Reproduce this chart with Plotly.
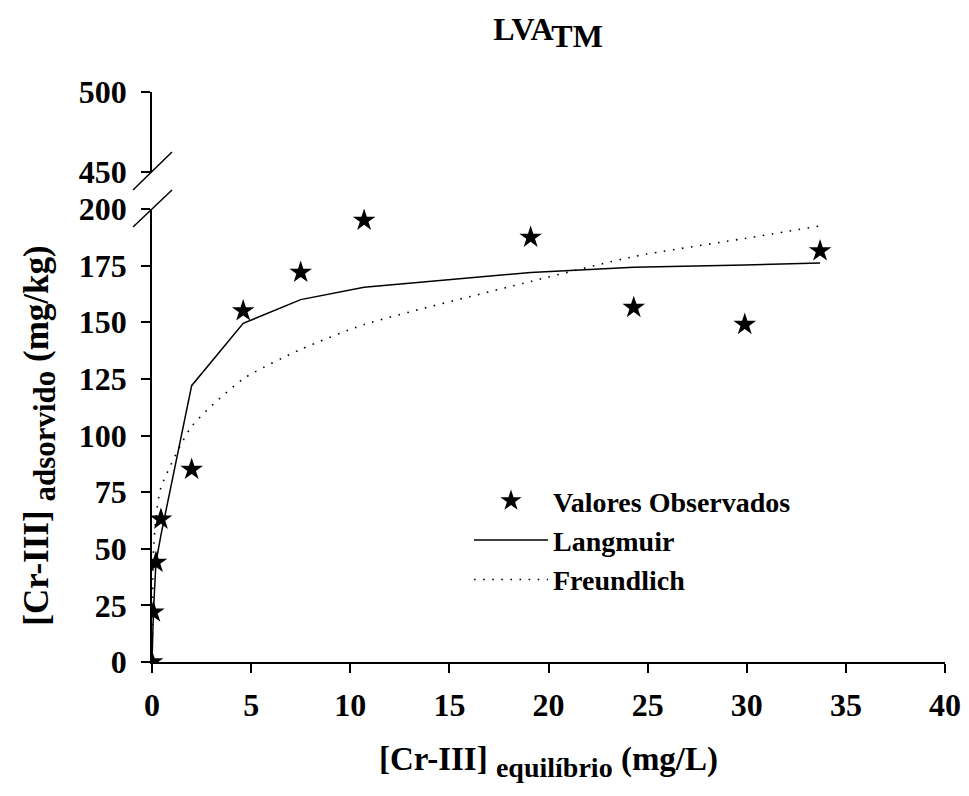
import plotly.graph_objects as go

# Equilibrium concentration of Cr(III) (mg/L)
conc = [0, 0.07, 0.2, 0.45, 2.0, 4.6, 7.5, 10.7, 19.1, 24.3, 29.9, 33.7]
# Observed adsorbed amount (mg/kg)
observed = [0, 22, 44, 63, 85, 155, 172, 195, 187.5, 156.5, 149, 181.5]
# Fitted isotherms (mg/kg)
langmuir = [0, 22, 44, 56, 122, 149.5, 160, 165.5, 172, 174.3, 175.3, 176.2]
freundlich = [0, 48, 64, 77, 104, 125, 138, 149, 168, 179, 187, 192.5]

lower_ticks = [0, 25, 50, 75, 100, 125, 150, 175, 200]
upper_ticks = [450, 500]
x_ticks = [0, 5, 10, 15, 20, 25, 30, 35, 40]

FONT = "Liberation Serif"

fig = go.Figure()
fig.add_trace(go.Scatter(
    x=conc, y=observed, mode="markers", name="Valores Observados",
    marker=dict(symbol="star", size=17, color="black"),
))
fig.add_trace(go.Scatter(
    x=conc, y=langmuir, mode="lines", name="Langmuir",
    line=dict(color="black", width=1.5),
))
fig.add_trace(go.Scatter(
    x=conc, y=freundlich, mode="lines", name="Freundlich",
    line=dict(color="black", width=1.6, dash="1.6px,7.5px", shape="spline", smoothing=0.6),
))

# plot area: x from 152 to 945 px, y from 92 to 662 px
L, R, T, B = 152, 24, 92, 134
W, H = 969, 796
pw, ph = W - L - R, H - T - B

def px_x(p):
    return (p - L) / pw

def px_y(p):
    return (H - B - p) / ph

lower_top = px_y(209)
upper_bottom = px_y(172)

axis_common = dict(
    showline=True, linecolor="black", linewidth=1.5,
    ticks="outside", ticklen=9, tickwidth=1.5, tickcolor="black",
    showgrid=False, zeroline=False,
    tickfont=dict(family=FONT, size=32, color="black"),
)

fig.update_layout(
    width=W, height=H,
    margin=dict(l=L, r=R, t=T, b=B, autoexpand=False),
    paper_bgcolor="white", plot_bgcolor="white",
    font=dict(family=FONT, color="black"),
    title=dict(
        text="<b>LVA<sub><span style='font-size:32px'>TM</span></sub></b>",
        x=px_x(548), xref="paper", xanchor="center",
        y=1 - 29 / H, yref="container", yanchor="middle",
        font=dict(family=FONT, size=32, color="black"),
    ),
    xaxis=dict(
        range=[0, 40], tickvals=x_ticks,
        ticktext=[f"<b>{v}</b>" for v in x_ticks],
        ticklabelstandoff=5,
        title=dict(
            text="<b>[Cr-III] <sub><span style='font-size:28px'>equilíbrio</span></sub> (mg/L)</b>",
            font=dict(family=FONT, size=33, color="black"), standoff=25,
        ),
        **axis_common,
    ),
    yaxis=dict(
        range=[0, 200], domain=[0, lower_top], tickvals=lower_ticks,
        ticktext=[f"<b>{v}</b>" for v in lower_ticks],
        ticklabelstandoff=8,
        title=dict(
            text="<b>[Cr-III] <sub><span style='font-size:31px'>adsorvido</span></sub> (mg/kg)</b>",
            font=dict(family=FONT, size=35, color="black"), standoff=20,
        ),
        **axis_common,
    ),
    yaxis2=dict(
        range=[450, 500], domain=[upper_bottom, 1], tickvals=upper_ticks,
        ticktext=[f"<b>{v}</b>" for v in upper_ticks],
        ticklabelstandoff=8, anchor="x",
        **axis_common,
    ),
    showlegend=True,
    legend=dict(
        x=px_x(469), y=px_y(476), xanchor="left", yanchor="top",
        bgcolor="rgba(0,0,0,0)", borderwidth=0,
        font=dict(family=FONT, size=28, color="black"),
        itemwidth=74, tracegroupgap=0,
    ),
)

# a hidden trace keeps the upper axis segment drawn
fig.add_trace(go.Scatter(x=[None], y=[None], yaxis="y2", showlegend=False, hoverinfo="skip"))

# axis break marks
for y0, y1 in [(190, 152), (227, 190)]:
    fig.add_shape(type="line", xref="paper", yref="paper",
                  x0=px_x(133), x1=px_x(172), y0=px_y(y0), y1=px_y(y1),
                  line=dict(color="black", width=1.5))

# bold legend labels
for tr in fig.data:
    if tr.name:
        tr.name = f"<b>{tr.name}</b>"

fig.write_html("out.html")
